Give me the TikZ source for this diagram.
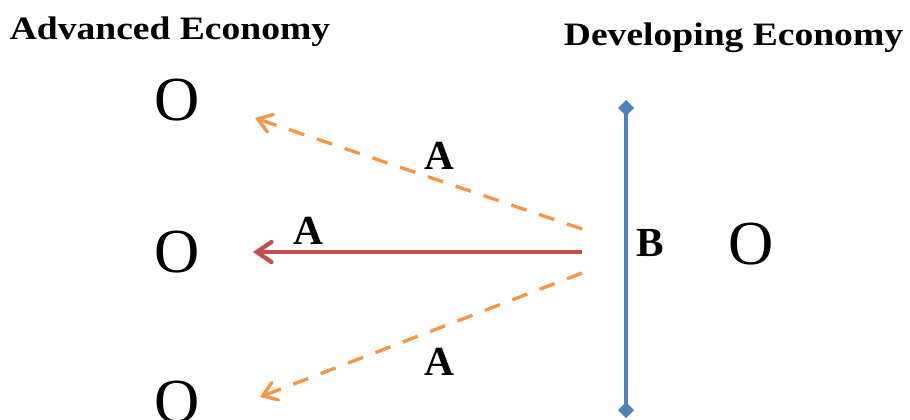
\documentclass[tikz,border=0pt]{standalone}
\usepackage{fontspec}
\setmainfont{Liberation Serif}
\newfontfamily\titlefont[FakeStretch=1.15]{Liberation Serif}
\usetikzlibrary{arrows.meta}

\definecolor{flowred}{HTML}{C0504D}
\definecolor{spillorange}{HTML}{F79646}
\definecolor{borderblue}{HTML}{4F81BD}

\begin{document}
\begin{tikzpicture}[x=0.75pt, y=-0.75pt,
  title/.style={font=\titlefont\bfseries\fontsize{24.5}{28}\selectfont, anchor=base, inner sep=0pt},
  agent/.style={font=\fontsize{47}{52}\selectfont, inner sep=0pt},
  lbl/.style={font=\bfseries\fontsize{31}{34}\selectfont, inner sep=0pt},
  flow/.style={line width=3.2pt, flowred, -{Straight Barb[length=11pt, width=15pt, line cap=round]}},
  spill/.style={line width=2.5pt, spillorange, dash pattern=on 12pt off 10pt, -{Straight Barb[length=10pt, width=14pt, line cap=round]}},
  border/.style={line width=3pt, borderblue, {Diamond[length=12pt, width=12pt]}-{Diamond[length=12pt, width=12pt]}}
]
\useasboundingbox (0,0) rectangle (910,419);

% headings
\node[title] (adv) at (170,39) {Advanced Economy};
\node[title] (dev) at (733.5,45) {Developing Economy};

% economies
\node[agent] (aTop) at (177,100) {O};
\node[agent] (aMid) at (177,252) {O};
\node[agent] (aBot) at (177,402) {O};
\node[agent] (dRight) at (751,244) {O};

% border of the developing economy
\coordinate (bTop) at (626,100);
\coordinate (bBot) at (626,418);
\draw[border] (bTop) -- (bBot);

% flows back to the advanced economy
\coordinate (srcTop) at (582,229);
\coordinate (srcMid) at (582,252);
\coordinate (srcBot) at (582,273);
\coordinate (tipTop) at (255,118);
\coordinate (tipMid) at (253,252);
\coordinate (tipBot) at (260,397);
\draw[spill] (srcTop) -- (tipTop);
\draw[flow] (srcMid) -- (tipMid);
\draw[spill] (srcBot) -- (tipBot);

% labels
\node[lbl] (lTop) at (439,156) {A};
\node[lbl] (lMid) at (308,231) {A};
\node[lbl] (lBot) at (439,362) {A};
\node[lbl] (lB) at (650,243) {B};

\end{tikzpicture}
\end{document}
